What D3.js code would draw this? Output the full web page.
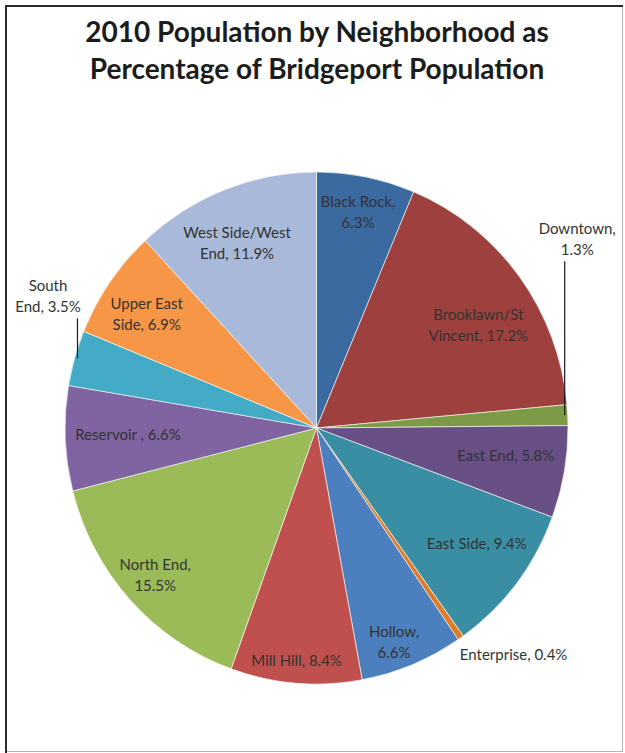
<!DOCTYPE html>
<html>
<head>
<meta charset="utf-8">
<script src="https://cdn.jsdelivr.net/npm/d3@7"></script>
<style>
  html, body { margin: 0; padding: 0; background: #fff; }
  svg { display: block; }
</style>
</head>
<body>
<svg id="chart" width="625" height="753"></svg>
<script>
// 2010 population share by neighborhood (percent of Bridgeport total)
const neighborhoods = [
  "Black Rock", "Brooklawn/St Vincent", "Downtown", "East End", "East Side",
  "Enterprise", "Hollow", "Mill Hill", "North End", "Reservoir ",
  "South End", "Upper East Side", "West Side/West End"
];
const shares = [6.3, 17.2, 1.3, 5.8, 9.4, 0.4, 6.6, 8.4, 15.5, 6.6, 3.5, 6.9, 11.9];
// label text broken into lines the way the data labels wrap
const labelLines = [
  ["Black Rock,", "6.3%"],
  ["Brooklawn/St", "Vincent, 17.2%"],
  ["Downtown,", "1.3%"],
  ["East End, 5.8%"],
  ["East Side, 9.4%"],
  ["Enterprise, 0.4%"],
  ["Hollow,", "6.6%"],
  ["Mill Hill, 8.4%"],
  ["North End,", "15.5%"],
  ["Reservoir , 6.6%"],
  ["South", "End, 3.5%"],
  ["Upper East", "Side, 6.9%"],
  ["West Side/West", "End, 11.9%"]
];
const titleLines = ["2010 Population by Neighborhood as", "Percentage of Bridgeport Population"];

// slice fills, one per neighborhood
const colors = [
  "#3A6A9F", "#9E413E", "#7D9A47", "#684F86", "#3A8EA4",
  "#DE7C2A", "#4B7FBE", "#C0504D", "#9BBB59", "#8064A2",
  "#43ABC6", "#F79646", "#A9B9D9"
];

// label placement: inside labels sit on the slice's mid angle at a fraction of the
// radius (with a small angular nudge); outside labels are offset from the rim point
const placement = [
  { r: 0.86, da: -0.3 },
  { r: 0.76, da: 4.1 },
  { outside: true, dx: 11, dy: -177, leader: true, anchor: "middle" },
  { r: 0.76, da: -1.9 },
  { r: 0.78, da: -2.1 },
  { outside: true, dx: 0, dy: 18, leader: false, anchor: "start" },
  { r: 0.89, da: 2.1 },
  { r: 0.91, da: 0.3 },
  { r: 0.86, da: 0.4 },
  { r: 0.75, da: 0.5 },
  { outside: true, dx: -28, dy: -63, leader: true, anchor: "middle" },
  { r: 0.81, da: -1.1 },
  { r: 0.79, da: -2.1 }
];

const svg = d3.select("#chart");
const W = 625, H = 753;
const cx = 316.5, cy = 428, R = 251.5, sy = 1.018;
const labelFont = "Lato, 'Open Sans', sans-serif";
const lineH = 21;

// frame
svg.append("line").attr("x1", 5).attr("x2", 623).attr("y1", 6).attr("y2", 6)
  .attr("stroke", "#2b2b2b").attr("stroke-width", 2);
svg.append("line").attr("x1", 6).attr("x2", 6).attr("y1", 5).attr("y2", 753)
  .attr("stroke", "#2b2b2b").attr("stroke-width", 2);
svg.append("line").attr("x1", 622.5).attr("x2", 622.5).attr("y1", 7).attr("y2", 752)
  .attr("stroke", "#b5b5b5").attr("stroke-width", 1);
svg.append("line").attr("x1", 7).attr("x2", 623).attr("y1", 751.5).attr("y2", 751.5)
  .attr("stroke", "#b5b5b5").attr("stroke-width", 1);

// title
svg.append("text")
  .attr("x", 317).attr("y", 42)
  .attr("text-anchor", "middle")
  .style("font-family", labelFont)
  .style("font-weight", "bold")
  .style("font-size", "28px")
  .style("fill", "#1c1c1c")
  .selectAll("tspan").data(titleLines).join("tspan")
  .attr("x", 317).attr("dy", (d, i) => i === 0 ? 0 : 37)
  .text(d => d);

// pie
const data = neighborhoods.map((n, i) => ({ name: n, value: shares[i], i }));
const pie = d3.pie().value(d => d.value).sort(null);
const arcs = pie(data);
const arc = d3.arc().innerRadius(0).outerRadius(R);

const g = svg.append("g").attr("transform", `translate(${cx},${cy}) scale(1,${sy})`);
g.selectAll("path").data(arcs).join("path")
  .attr("d", arc)
  .attr("fill", d => colors[d.data.i])
  .attr("stroke", "rgba(255,255,255,0.75)")
  .attr("stroke-width", 0.8)
  .attr("stroke-linejoin", "round");

// polar point in page coordinates (angle in radians, clockwise from north)
function polar(a, r) {
  return [cx + r * Math.sin(a), cy - r * Math.cos(a) * sy];
}

const labels = svg.append("g")
  .style("font-family", labelFont)
  .style("font-size", "15px")
  .style("fill", "#333");

arcs.forEach((d, k) => {
  const p = placement[k];
  const lines = labelLines[k];
  const mid = (d.startAngle + d.endAngle) / 2;
  let x, y, anchor = "middle";
  if (!p.outside) {
    [x, y] = polar(mid + p.da * Math.PI / 180, p.r * R);
  } else {
    const rim = polar(mid, R - 1.5);
    x = rim[0] + p.dx; y = rim[1] + p.dy;
    anchor = p.anchor;
    if (p.leader) {
      const textBottom = y + (lines.length * lineH) / 2 + 2;
      const lx = polar(mid, R - 3)[0];
      labels.append("line")
        .attr("x1", lx).attr("x2", lx)
        .attr("y1", textBottom).attr("y2", rim[1])
        .attr("stroke", "#1a1a1a").attr("stroke-width", 1.2);
    }
  }
  const top = y - (lines.length - 1) * lineH / 2;
  const t = labels.append("text")
    .attr("text-anchor", anchor)
    .attr("dominant-baseline", "central");
  lines.forEach((ln, j) => {
    t.append("tspan").attr("x", x).attr("y", top + j * lineH).text(ln);
  });
});
</script>
</body>
</html>
